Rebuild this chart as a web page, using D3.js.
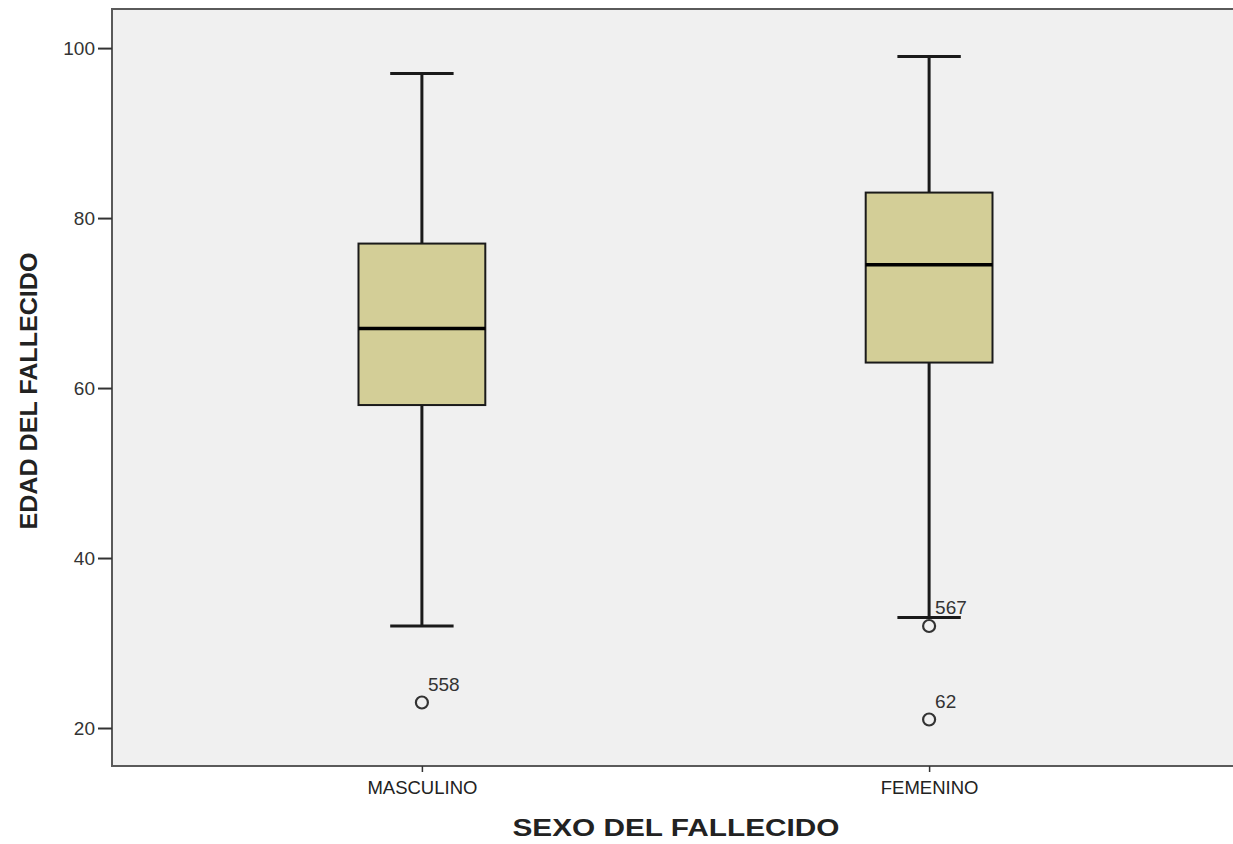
<!DOCTYPE html>
<html>
<head>
<meta charset="utf-8">
<script src="https://cdn.jsdelivr.net/npm/d3@7"></script>
<style>
    body { margin: 0; background: #fff; }
    svg { display: block; font-family: "Liberation Sans", Arial, sans-serif; }
</style>
</head>
<body>
<svg id="chart" width="1233" height="844"></svg>
<script>
const categories = ["MASCULINO", "FEMENINO"];
const whiskerLow = [32, 33];
const q1 = [58, 63];
const medians = [67, 74.5];
const q3 = [77, 83];
const whiskerHigh = [97, 99];
const outliers = [
    { cat: "MASCULINO", value: 23, label: "558" },
    { cat: "FEMENINO", value: 32, label: "567" },
    { cat: "FEMENINO", value: 21, label: "62" },
];
const yTicks = [20, 40, 60, 80, 100];

const svg = d3.select("#chart");
const margin = { top: 9, left: 112, bottom: 78 };
const width = 1239;
const height = 844;

const x = d3.scalePoint()
    .domain(categories)
    .range([margin.left, width])
    .padding(0.611);

const y = d3.scaleLinear()
    .domain([15.53, 104.6])
    .range([height - margin.bottom, margin.top]);

const step = x.step();
const boxW = step * 0.25;

// panel
svg.append("rect")
    .attr("x", margin.left)
    .attr("y", margin.top)
    .attr("width", width - margin.left)
    .attr("height", height - margin.bottom - margin.top)
    .attr("fill", "#f0f0f0")
    .attr("stroke", "#5a5a5a")
    .attr("stroke-width", 2);

// y axis
const yAxis = svg.append("g")
    .attr("transform", `translate(${margin.left},0)`)
    .call(d3.axisLeft(y).tickValues(yTicks).tickSize(14).tickPadding(3));
yAxis.select(".domain").remove();
yAxis.selectAll("line").attr("stroke", "#333").attr("stroke-width", 2);
yAxis.selectAll("text").attr("font-size", 19).attr("fill", "#333").attr("font-family", "Liberation Sans, Arial, sans-serif");

// x axis
const xAxis = svg.append("g")
    .attr("transform", `translate(0,${height - margin.bottom})`)
    .call(d3.axisBottom(x).tickSize(6).tickPadding(9));
xAxis.select(".domain").remove();
xAxis.selectAll("line").attr("stroke", "#333").attr("stroke-width", 1.5);
xAxis.selectAll("text").attr("font-size", 18.5).attr("fill", "#222").attr("font-family", "Liberation Sans, Arial, sans-serif");

// boxes
const boxes = categories.map((c, i) => ({
    cat: c, lo: whiskerLow[i], q1: q1[i], med: medians[i], q3: q3[i], hi: whiskerHigh[i],
}));

const g = svg.append("g");
boxes.forEach((d) => {
    const cx = x(d.cat);
    // whiskers
    g.append("line")
        .attr("x1", cx).attr("x2", cx)
        .attr("y1", y(d.hi)).attr("y2", y(d.q3))
        .attr("stroke", "#1a1a1a").attr("stroke-width", 3);
    g.append("line")
        .attr("x1", cx).attr("x2", cx)
        .attr("y1", y(d.q1)).attr("y2", y(d.lo))
        .attr("stroke", "#1a1a1a").attr("stroke-width", 3);
    [d.hi, d.lo].forEach((v) => {
        g.append("line")
            .attr("x1", cx - boxW / 4).attr("x2", cx + boxW / 4)
            .attr("y1", y(v)).attr("y2", y(v))
            .attr("stroke", "#1a1a1a").attr("stroke-width", 3);
    });
    // box
    g.append("rect")
        .attr("x", cx - boxW / 2)
        .attr("y", y(d.q3))
        .attr("width", boxW)
        .attr("height", y(d.q1) - y(d.q3))
        .attr("fill", "#d3ce97")
        .attr("stroke", "#1a1a1a")
        .attr("stroke-width", 2);
    // median
    g.append("line")
        .attr("x1", cx - boxW / 2).attr("x2", cx + boxW / 2)
        .attr("y1", y(d.med)).attr("y2", y(d.med))
        .attr("stroke", "#000").attr("stroke-width", 3.5);
});

// outliers
outliers.forEach((o) => {
    const cx = x(o.cat);
    g.append("circle")
        .attr("cx", cx)
        .attr("cy", y(o.value))
        .attr("r", 6)
        .attr("fill", "none")
        .attr("stroke", "#333")
        .attr("stroke-width", 2.2);
    g.append("text")
        .attr("x", cx + 6)
        .attr("y", y(o.value) - 12)
        .attr("font-size", 19)
        .attr("fill", "#333")
        .text(o.label);
});

// titles
svg.append("text")
    .attr("x", 676)
    .attr("y", 836)
    .attr("text-anchor", "middle")
    .attr("font-size", 24)
    .attr("font-weight", "bold")
    .attr("fill", "#222")
    .attr("textLength", 327)
    .attr("lengthAdjust", "spacingAndGlyphs")
    .text("SEXO DEL FALLECIDO");

svg.append("text")
    .attr("transform", "translate(37,391) rotate(-90)")
    .attr("text-anchor", "middle")
    .attr("font-size", 23)
    .attr("font-weight", "bold")
    .attr("fill", "#222")
    .attr("textLength", 277)
    .attr("lengthAdjust", "spacingAndGlyphs")
    .text("EDAD DEL FALLECIDO");
</script>
</body>
</html>
